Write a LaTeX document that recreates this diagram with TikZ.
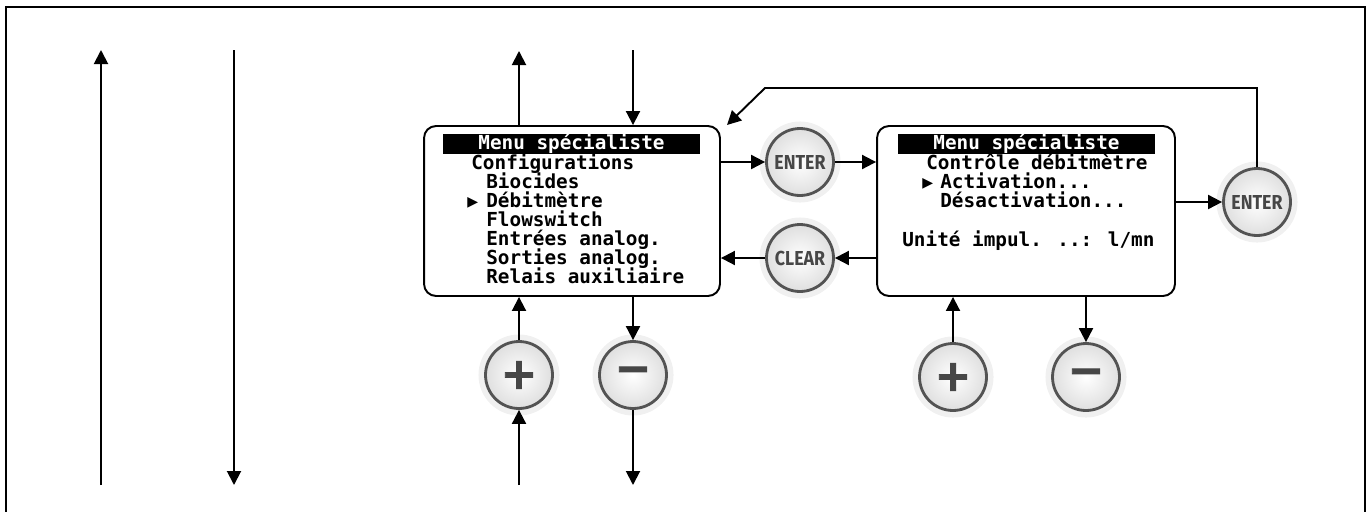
\documentclass[tikz,border=0pt]{standalone}
\usepackage{fontspec}
\usepackage{tikz}
\usetikzlibrary{arrows.meta, positioning, calc}
\newfontfamily\lcdfont{DejaVu Sans Mono}
\newfontfamily\symfont{DejaVu Sans}
\newfontfamily\btnfont[FakeStretch=0.88]{Fira Sans}
\newfontfamily\signfont[FakeBold=2]{DejaVu Sans}

\begin{document}
\begin{tikzpicture}[x=0.02cm, y=-0.02cm,
    arr/.style={line width=1.1pt, -{Triangle[length=0.28cm,width=0.28cm]}},
    screen/.style={draw, line width=1.1pt, rounded corners=0.24cm, minimum width=5.92cm, minimum height=3.4cm},
    titlebar/.style={fill=black, text=white, minimum width=5.14cm, minimum height=0.36cm, inner sep=0pt, font=\lcdfont\bfseries\fontsize{11}{11}\selectfont},
    lcd/.style={anchor=base west, inner sep=0pt, font=\lcdfont\bfseries\fontsize{11}{11}\selectfont},
    cursor/.style={anchor=base west, inner sep=0pt, font=\symfont\fontsize{8}{8}\selectfont},
    knob/.style={circle, minimum size=1.34cm, inner sep=0pt, draw=gray!65!black, line width=1.6pt,
        inner color=white, outer color=gray!25, text=black!72,
        preaction={draw=gray!28, line width=4pt}, preaction={draw=gray!12, line width=8pt}},
    btn/.style={knob, font=\btnfont\bfseries\fontsize{11.5}{11.5}\selectfont},
    sign/.style={knob, font=\signfont\bfseries\fontsize{25}{25}\selectfont}]

    \useasboundingbox (0,0) rectangle (1372,511);
    % Frame
    \draw[line width=1.2pt] (6,530) -- (6,7) -- (1365,7) -- (1365,530);

    % Free ends of the arrows
    \coordinate (upL) at (101,50);
    \coordinate (lowL) at (101,485);
    \coordinate (upR) at (234,50);
    \coordinate (lowR) at (234,485);
    \coordinate (upA) at (519,51);
    \coordinate (inA) at (633,50);
    \coordinate (botA) at (519,485);
    \coordinate (outA) at (633,485);
    \coordinate (bend) at (765,88);
    \coordinate (loopEnd) at (727,125);

    % First screen
    \node[screen] (box1) at (572,211) {};
    \node[titlebar] (title1) at (571.5,144) {Menu spécialiste};
    \foreach \xx/\txt [count=\i] in {471/Configurations, 486/Biocides, 486/Débitmètre, 486/Flowswitch,
        486/Entrées analog., 486/Sorties analog., 486/Relais auxiliaire}
        \node[lcd] (a\i) at (\xx,150+19*\i) {\txt};
    \node[cursor] (curA) at (467,206) {▶};

    % Second screen
    \node[screen, minimum width=5.96cm] (box2) at (1026,211) {};
    \node[titlebar] (title2) at (1026.5,144) {Menu spécialiste};
    \node[lcd] (b1) at (926,169) {Contrôle débitmètre};
    \node[lcd] (b2) at (940,188) {Activation...};
    \node[lcd] (b3) at (940,207) {Désactivation...};
    \node[lcd] (b4) at (902,246) {Unité impul. ..: l/mn};
    \node[cursor] (curB) at (922,187) {▶};

    % Keys
    \node[btn] (enterA) at (800,162) {ENTER};
    \node[btn] (clearA) at (800,258) {CLEAR};
    \node[btn] (enterB) at (1257,202) {ENTER};
    \node[sign] (plusA) at (519,375) {+};
    \node[sign] (minusA) at (633,375) {−};
    \node[sign] (plusB) at (953,377) {+};
    \node[sign] (minusB) at (1086,377) {−};

    % Left arrows
    \draw[arr] (lowL) -- (upL);
    \draw[arr] (upR) -- (lowR);

    % Around the first screen
    \draw[arr] (box1.north -| upA) -- (upA);
    \draw[arr] (inA) -- (box1.north -| inA);
    \draw[arr] (plusA) -- (box1.south -| plusA);
    \draw[arr] (box1.south -| minusA) -- (minusA);
    \draw[arr] (botA) -- (plusA);
    \draw[arr] (minusA) -- (outA);
    \draw[arr] (box1.east |- enterA) -- (enterA);
    \draw[arr] (enterA) -- (box2.west |- enterA);
    \draw[arr] (box2.west |- clearA) -- (clearA);
    \draw[arr] (clearA) -- (box1.east |- clearA);

    % Around the second screen
    \draw[arr] (plusB) -- (box2.south -| plusB);
    \draw[arr] (box2.south -| minusB) -- (minusB);
    \draw[arr] (box2.east |- enterB) -- (enterB);
    \draw[arr] (enterB) |- (bend) -- (loopEnd);
\end{tikzpicture}
\end{document}
